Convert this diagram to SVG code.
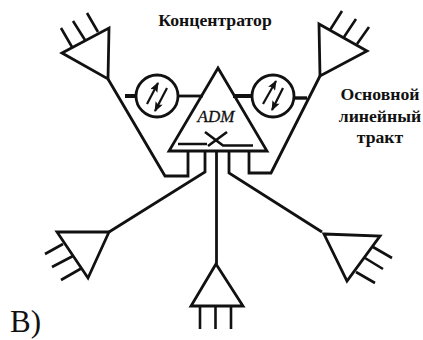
<svg xmlns="http://www.w3.org/2000/svg" width="423" height="340" viewBox="0 0 423 340">
<defs>
<marker id="ah" viewBox="0 0 10 8" refX="9" refY="4" markerWidth="12" markerHeight="8" markerUnits="userSpaceOnUse" orient="auto"><path d="M0 0L10 4L0 8L2 4Z" fill="#111"/></marker>
</defs>
<style>
.s{fill:none;stroke:#111;stroke-width:2.8;stroke-linejoin:miter}
.t{fill:none;stroke:#111;stroke-width:2.6}
.c{fill:#fff;stroke:#111;stroke-width:2.8}
.a{fill:none;stroke:#111;stroke-width:2.2;marker-end:url(#ah)}
.l{font-family:"Liberation Serif","Noto Serif",serif;font-weight:bold;font-size:17.7px;fill:#111;text-anchor:middle}
</style>
<rect width="423" height="340" fill="#fff"/>
<g id="connectors">
<path class="s" d="M108 79L165 176H188V152"/>
<path class="s" d="M320 76L271 173H249V152"/>
<path class="s" d="M205 152V172L109 232"/>
<path class="s" d="M229 152V173L322 232"/>
<path class="s" d="M216.500 152V264"/>
<path class="s" style="stroke-width:4" d="M125 96H137"/>
<path class="s" d="M177 96H203"/>
<path class="s" style="stroke-width:4" d="M233 96H253"/>
<path class="s" style="stroke-width:3.400" d="M293 98H307"/>
</g>
<g id="tl-terminal">
<path class="s" d="M62 53L109 28L108 79Z"/>
<path class="t" d="M61 28L72 47M73 21L85 40M87 13L98 32"/>
</g>
<g id="tr-terminal">
<path class="s" d="M319 24L367 51L320 76Z"/>
<path class="t" d="M330 30L342 11M344 37L356 19M357 44L369 27"/>
</g>
<g id="l-terminal">
<path class="s" d="M57 232H109L88 278Z"/>
<path class="t" d="M45 254L63 244M52 267L73 256M61 280L82 268"/>
</g>
<g id="b-terminal">
<path class="s" d="M216 264L243 306H191Z"/>
<path class="t" d="M200 306V329M215.500 306V329M231 306V329"/>
</g>
<g id="r-terminal">
<path class="s" d="M324 234L380 236L347 281Z"/>
<path class="t" d="M373 247L392 258M365 258L383 269M356 272L375 283"/>
</g>
<g id="left-regenerator">
<circle class="c" cx="157" cy="96" r="21"/>
<path class="a" d="M147 104L158 83"/>
<path class="a" d="M167 88L155 111"/>
</g>
<g id="right-regenerator">
<circle class="c" cx="273" cy="96" r="21"/>
<path class="a" d="M263 104L276 81"/>
<path class="a" d="M283 88L272 110"/>
</g>
<g id="adm">
<path class="s" d="M218 68L267 151H169Z"/>
<path class="t" d="M178 144H207M205 132L223 145.500H253M227 132L208 146"/>
<text x="216" y="122" font-family="Liberation Serif,serif" font-style="italic" font-size="17" stroke="#111" stroke-width="0.300" fill="#111" text-anchor="middle">ADM</text>
</g>
<g id="labels">
<text class="l" x="215" y="26">Концентратор</text>
<text class="l" x="380" y="100">Основной</text>
<text class="l" x="380" y="122">линейный</text>
<text class="l" x="380" y="143">тракт</text>
<text x="10" y="332" font-family="Liberation Serif,serif" font-size="31" fill="#111">В)</text>
</g>
</svg>
